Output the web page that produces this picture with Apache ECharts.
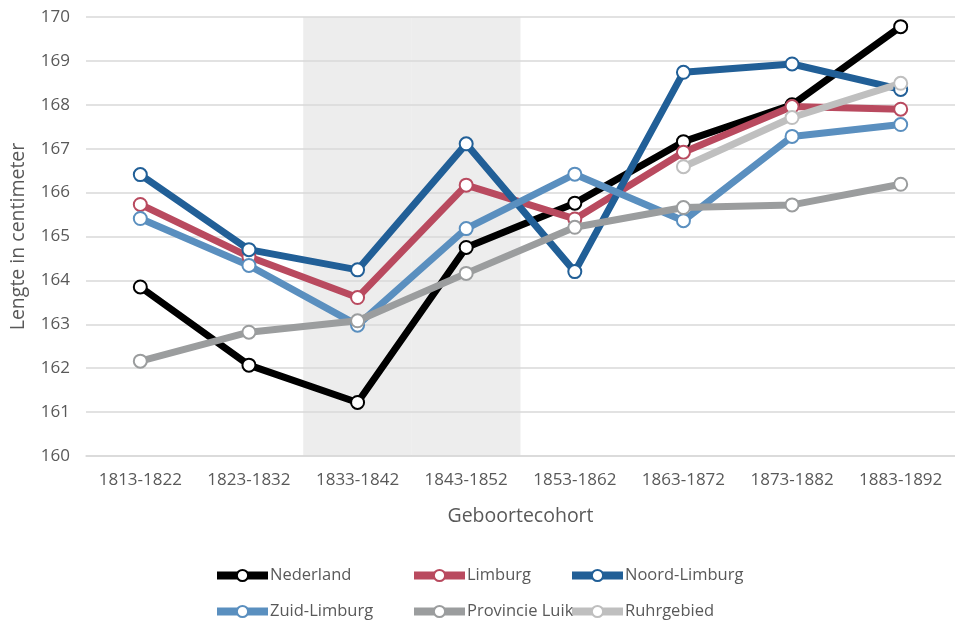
<!DOCTYPE html>
<html>
<head>
<meta charset="utf-8">
<script src="https://cdn.jsdelivr.net/npm/echarts@6/dist/echarts.min.js"></script>
<style>
  html, body { margin: 0; padding: 0; background: #fff; }
  #chart { width: 955px; height: 621px; }
</style>
</head>
<body>
<div id="chart"></div>
<script>
const cohorts = ["1813-1822", "1823-1832", "1833-1842", "1843-1852", "1853-1862", "1863-1872", "1873-1882", "1883-1892"];

const nederland = [163.85, 162.07, 161.22, 164.75, 165.76, 167.16, 168.0, 169.78];
const limburg = [165.73, 164.54, 163.61, 166.17, 165.4, 166.92, 167.96, 167.9];
const noordLimburg = [166.41, 164.7, 164.24, 167.11, 164.2, 168.74, 168.93, 168.35];
const zuidLimburg = [165.41, 164.34, 162.98, 165.18, 166.42, 165.36, 167.28, 167.55];
const provincieLuik = [162.16, 162.82, 163.08, 164.16, 165.21, 165.66, 165.72, 166.19];
const ruhrgebied = [null, null, null, null, null, 166.59, 167.71, 168.49];

// the two shaded cohorts
const shaded = [null, null, 170, 170, null, null, null, null];

const textColor = "#595959";
const font = "Open Sans";

function lineSeries(name, data, color) {
    return {
        name: name,
        type: "line",
        data: data,
        symbol: "emptyCircle",
        symbolSize: 13,
        showAllSymbol: true,
        lineStyle: { width: 7, color: color },
        itemStyle: { color: color, borderWidth: 2 },
        z: 3,
    };
}

function legendColumn(left, names) {
    return {
        orient: "vertical",
        left: left,
        top: 562,
        height: 80,
        itemWidth: 51,
        itemHeight: 14,
        itemGap: 19,
        data: names,
        lineStyle: { width: 8 },
        textStyle: { fontFamily: font, fontSize: 16.5, color: textColor, padding: [0, 0, 0, -3] },
    };
}

const chart = echarts.init(document.getElementById("chart"));

chart.setOption({
    animation: false,
    grid: { left: 84, right: -8, top: 17, bottom: 165 },
    legend: [
        legendColumn(208, ["Nederland", "Zuid-Limburg"]),
        legendColumn(405, ["Limburg", "Provincie Luik"]),
        legendColumn(563, ["Noord-Limburg", "Ruhrgebied"]),
    ],
    xAxis: {
        type: "category",
        data: cohorts,
        name: "Geboortecohort",
        nameLocation: "middle",
        nameGap: 50,
        nameTextStyle: { fontFamily: font, fontSize: 19.5, color: textColor },
        axisLine: { lineStyle: { color: "#d9d9d9", width: 1.5 } },
        axisTick: { show: false },
        axisLabel: { fontFamily: font, fontSize: 17, color: textColor, margin: 16 },
    },
    yAxis: {
        type: "value",
        min: 160,
        max: 170,
        interval: 1,
        name: "Lengte in centimeter",
        nameLocation: "middle",
        nameGap: 58,
        nameTextStyle: { fontFamily: font, fontSize: 19.5, color: textColor },
        axisLine: { show: false },
        axisTick: { show: false },
        axisLabel: { fontFamily: font, fontSize: 17, color: textColor, margin: 16 },
        splitLine: { lineStyle: { color: "#d9d9d9", width: 1.5 } },
    },
    series: [
        {
            name: "shade",
            type: "bar",
            data: shaded,
            barWidth: "100%",
            silent: true,
            itemStyle: { color: "#ededed" },
            z: -1,
        },
        lineSeries("Nederland", nederland, "#000000"),
        lineSeries("Limburg", limburg, "#b94a5f"),
        lineSeries("Noord-Limburg", noordLimburg, "#215f97"),
        lineSeries("Zuid-Limburg", zuidLimburg, "#5a8fbf"),
        lineSeries("Provincie Luik", provincieLuik, "#9b9d9e"),
        lineSeries("Ruhrgebied", ruhrgebied, "#bfbfbf"),
    ],
});
</script>
</body>
</html>
